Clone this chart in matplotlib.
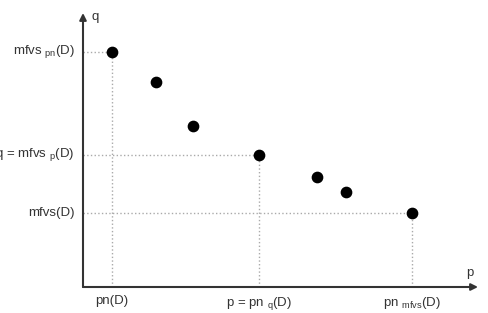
import matplotlib
matplotlib.use("Agg")
import matplotlib.pyplot as plt

plt.rcParams["font.family"] = ["Liberation Sans", "DejaVu Sans"]
plt.rcParams["mathtext.fontset"] = "custom"
plt.rcParams["mathtext.rm"] = "Liberation Sans"
plt.rcParams["mathtext.default"] = "regular"

# points (p, q)
P_VALS = [0.73, 1.85, 2.78, 4.46, 5.92, 6.66, 8.33]
Q_VALS = [8.58, 7.48, 5.88, 4.82, 4.01, 3.47, 2.70]

# projected guide points: index into the series
GUIDE_IDX = [0, 3, 6]
X_LABELS = ["pn(D)", "p = pn $_{q}$(D)", "pn $_{mfvs}$(D)"]
Y_LABELS = ["mfvs $_{pn}$(D)", "q = mfvs $_{p}$(D)", "mfvs(D)"]

TXT = "#333333"
GUIDE = "#aaaaaa"
FS = 9.5

fig = plt.figure(figsize=(4.89, 3.13), dpi=100)
ax = fig.add_axes([83 / 489, 26 / 313, 395 / 489, 274 / 313])
ax.set_xlim(0, 10)
ax.set_ylim(0, 10)
ax.axis("off")

# dotted guides
for i in GUIDE_IDX:
    px, qy = P_VALS[i], Q_VALS[i]
    ax.plot([px, px], [0, qy], color=GUIDE, ls=":", lw=1, zorder=1)
    ax.plot([0, px], [qy, qy], color=GUIDE, ls=":", lw=1, zorder=1)

# axes with arrows
arrow = dict(arrowstyle="-|>", color=TXT, lw=1.5, mutation_scale=10, shrinkA=0, shrinkB=0)
ax.annotate("", xy=(10, 0), xytext=(0, 0), arrowprops=arrow, annotation_clip=False)
ax.annotate("", xy=(0, 10), xytext=(0, 0), arrowprops=arrow, annotation_clip=False)

ax.scatter(P_VALS, Q_VALS, s=55, color="black", zorder=3, clip_on=False)

for i, lab in zip(GUIDE_IDX, X_LABELS):
    ax.annotate(lab, (P_VALS[i], 0), xytext=(0, -5.5), textcoords="offset points",
                ha="center", va="top", fontsize=FS, color=TXT, annotation_clip=False)
for i, lab in zip(GUIDE_IDX, Y_LABELS):
    ax.annotate(lab, (0, Q_VALS[i]), xytext=(-6, 0), textcoords="offset points",
                ha="right", va="center", fontsize=FS, color=TXT, annotation_clip=False)

ax.annotate("q", (0, 10), xytext=(6, -3), textcoords="offset points",
            ha="left", va="center", fontsize=FS, color=TXT, annotation_clip=False)
ax.annotate("p", (10, 0), xytext=(-6, 10), textcoords="offset points",
            ha="center", va="center", fontsize=FS, color=TXT, annotation_clip=False)

fig.savefig("out.png", dpi=100)
